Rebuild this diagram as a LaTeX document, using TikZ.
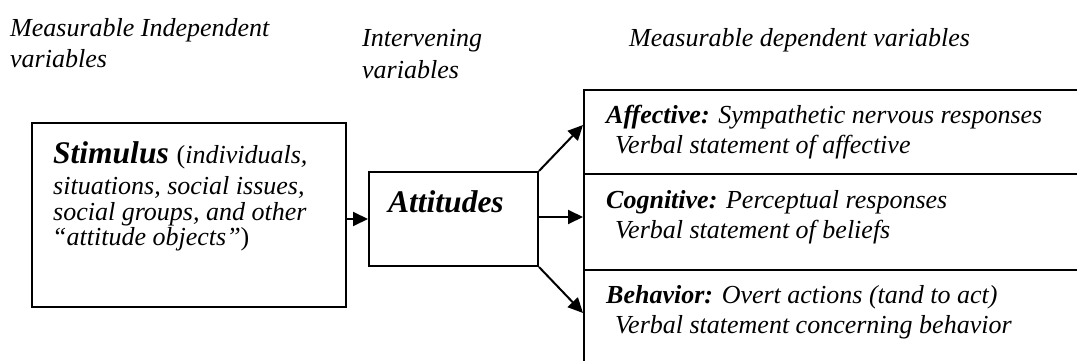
\documentclass[tikz,border=0pt]{standalone}
\usepackage{fontspec}
\setmainfont{Liberation Serif}
\usetikzlibrary{arrows.meta}
\tikzset{
  box/.style={draw=black, line width=2pt, fill=white, inner sep=0pt, anchor=north west},
  txt/.style={anchor=base west, inner sep=0pt, font=\fontsize{26}{26}\selectfont\itshape},
  bigtxt/.style={anchor=base west, inner sep=0pt, font=\fontsize{31.5}{31.5}\selectfont\bfseries\itshape},
  conn/.style={line width=2pt, -{Triangle[length=15pt,width=14pt]}},
}
\begin{document}
\begin{tikzpicture}[x=1pt,y=-1pt]
\useasboundingbox (0,0) rectangle (1077,361);
\begin{scope}
\clip (0,0) rectangle (1077,361);
% headers
\node[txt] (h1a) at (10,37) {Measurable Independent};
\node[txt] (h1b) at (10,68) {variables};
\node[txt] (h2a) at (362,47) {Intervening};
\node[txt] (h2b) at (362,79) {variables};
\node[txt] (h3) at (629,47) {Measurable dependent variables};
% boxes
\node[box, minimum width=314pt, minimum height=184pt] (stim) at (31,122) {};
\node[box, minimum width=169pt, minimum height=94pt] (att) at (368,171) {};
\node[box, minimum width=520pt, minimum height=84pt] (aff) at (583,89) {};
\node[box, minimum width=520pt, minimum height=96pt] (cog) at (583,173) {};
\node[box, minimum width=520pt, minimum height=140pt] (beh) at (583,269) {};
% box texts
\node[bigtxt] (stimA) at (53,163) {Stimulus \normalfont\fontsize{26}{26}\selectfont(\textit{individuals,}};
\node[txt] (stimB) at (53,194) {situations, social issues,};
\node[txt] (stimC) at (53,220) {social groups, and other};
\node[txt] (stimD) at (52,245) {“attitude objects”\normalfont)};
\node[bigtxt] (attT) at (388,212) {Attitudes};
\node[txt] (affA) at (606,123) {\textbf{Affective:} Sympathetic nervous responses};
\node[txt] (affB) at (615,153) {Verbal statement of affective};
\node[txt] (cogA) at (606,208) {\textbf{Cognitive:} Perceptual responses};
\node[txt] (cogB) at (615,238) {Verbal statement of beliefs};
\node[txt] (behA) at (606,303) {\textbf{Behavior:} Overt actions (tand to act)};
\node[txt] (behB) at (615,333) {Verbal statement concerning behavior};
% connectors
\coordinate (s1) at (345,219);
\coordinate (t1) at (368,219);
\draw[conn] (s1) -- (t1);
\coordinate (a1) at (537,217);
\coordinate (c1) at (583,217);
\draw[conn] (a1) -- (c1);
\coordinate (f0) at (583,125);
\draw[conn] (att.north east) -- (f0);
\coordinate (b0) at (583,313);
\draw[conn] (att.south east) -- (b0);
\end{scope}
\end{tikzpicture}
\end{document}
